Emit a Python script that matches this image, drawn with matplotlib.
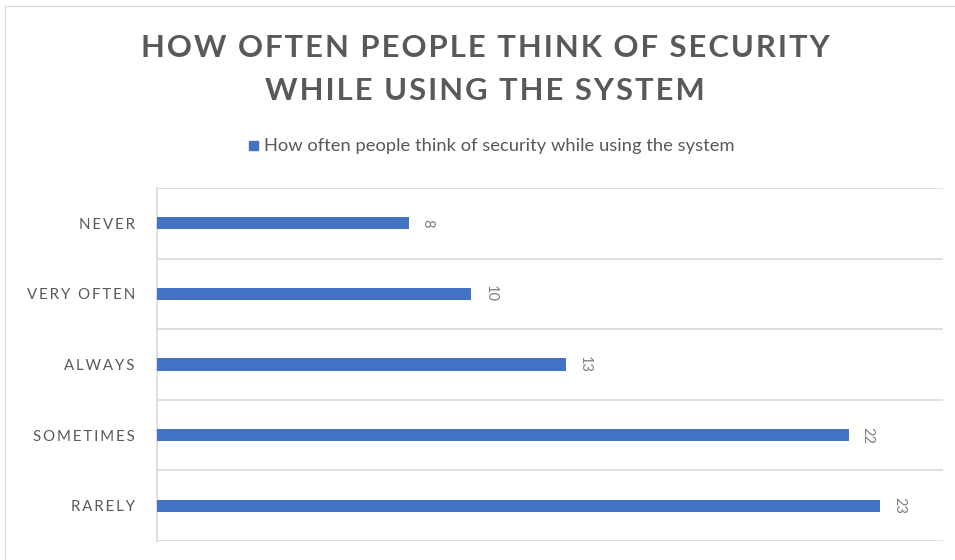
import matplotlib.pyplot as plt
from matplotlib.patches import Rectangle

categories = ["RARELY", "SOMETIMES", "ALWAYS", "VERY OFTEN", "NEVER"]
values = [23, 22, 13, 10, 8]
series_name = "How often people think of security while using the system"
title_lines = ["HOW OFTEN PEOPLE THINK OF SECURITY", "WHILE USING THE SYSTEM"]

bar_color = "#4472C4"
text_color = "#595959"
grid_color = "#D9D9D9"


def spaced(s, sep="\u2009"):
    # fake letter spacing by putting a narrow space between characters
    return sep.join(list(s))


fig = plt.figure(figsize=(9.55, 5.6), dpi=100)
fig.patches.append(Rectangle((5 / 955, -0.1), 1.2, 1 - 6 / 560 + 0.1,
                             transform=fig.transFigure, fill=False,
                             edgecolor=grid_color, linewidth=1))

ax = fig.add_axes([157 / 955, 1 - 541 / 560, (943 - 157) / 955, (541 - 188) / 560])
ypos = list(range(len(categories)))
ax.barh(ypos, values, height=0.17, color=bar_color, zorder=3)

ax.set_xlim(0, 25)
ax.set_ylim(-0.5, len(categories) - 0.5)
ax.set_xticks([])
ax.set_yticks(ypos)
ax.set_yticklabels([spaced(c) for c in categories], family=["Lato", "DejaVu Sans"],
                   fontsize=10.8, color=text_color)
ax.tick_params(axis="y", length=0, pad=16)

# category boundaries act as gridlines
for b in [i - 0.5 for i in range(len(categories) + 1)]:
    ax.axhline(b, color=grid_color, linewidth=1.2, zorder=1)
for s in ["top", "right", "bottom"]:
    ax.spines[s].set_visible(False)
ax.spines["left"].set_color(grid_color)
ax.spines["left"].set_linewidth(1.2)

for y, v in zip(ypos, values):
    ax.text(v + 0.6, y, str(v), rotation=-90, va="center", ha="center",
            fontsize=10.5, color="#7F7F7F", family="Lato")

for i, line in enumerate(title_lines):
    fig.text(0.508, 1 - (48 + 43 * i) / 560, spaced(line, "\u200a"), ha="center",
             va="center", fontsize=22.3, fontweight="bold", color=text_color,
             family=["Lato", "DejaVu Sans"])

fig.patches.append(Rectangle((249 / 955, 1 - 150 / 560), 9 / 955, 9 / 560,
                             transform=fig.transFigure, color=bar_color))
fig.text(264 / 955, 1 - 146 / 560, series_name, ha="left", va="center",
         fontsize=13.2, color=text_color, family="Lato")

fig.savefig("out.png", dpi=100)
